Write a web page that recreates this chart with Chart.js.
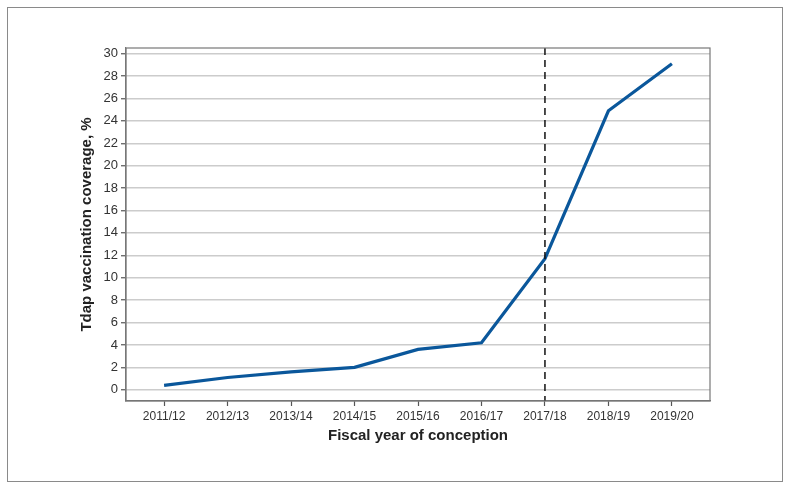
<!DOCTYPE html>
<html>
<head>
<meta charset="utf-8">
<script src="https://cdn.jsdelivr.net/npm/chart.js@4"></script>
<style>
  html, body { margin:0; padding:0; background:#fff; }
  #wrap { position:relative; width:791px; height:490px; }
  #frame { position:absolute; left:7px; top:7px; width:774px; height:473px; border:1.5px solid #8a8a8a; }
  canvas { position:absolute; left:0; top:0; }
</style>
</head>
<body>
<div id="wrap">
  <div id="frame"></div>
  <canvas id="chart" width="791" height="490"></canvas>
</div>
<script>
// fiscal years and Tdap coverage (%)
const years    = ['2011/12','2012/13','2013/14','2014/15','2015/16','2016/17','2017/18','2018/19','2019/20'];
const coverage = [0.4, 1.1, 1.6, 2.0, 3.6, 4.2, 11.7, 24.9, 29.1];
const yTicks   = [0,2,4,6,8,10,12,14,16,18,20,22,24,26,28,30];
const markerYear = '2017/18';

const FONT = "'Liberation Sans', Arial, sans-serif";

// dashed vertical reference line + box round the plot area
const extras = {
  id: 'extras',
  afterDatasetsDraw(chart) {
    const { ctx, chartArea: a, scales } = chart;
    const x = scales.x.getPixelForValue(years.indexOf(markerYear));
    ctx.save();
    ctx.strokeStyle = '#111';
    ctx.lineWidth = 1.5;
    ctx.setLineDash([7, 5]);
    ctx.beginPath(); ctx.moveTo(x, a.top); ctx.lineTo(x, a.bottom); ctx.stroke();
    ctx.setLineDash([]);
    ctx.strokeStyle = '#777';
    ctx.lineWidth = 1.2;
    ctx.strokeRect(a.left, a.top, a.right - a.left, a.bottom - a.top);
    ctx.restore();
  }
};

new Chart(document.getElementById('chart'), {
  type: 'line',
  data: {
    datasets: [{
      data: coverage.map((v, i) => ({ x: i, y: v })),
      borderColor: '#0a579b',
      borderWidth: 3.2,
      pointRadius: 0,
      tension: 0,
      fill: false
    }]
  },
  options: {
    responsive: false,
    animation: false,
    layout: { padding: { left: 74, top: 48, right: 81, bottom: 41 } },
    plugins: { legend: { display: false }, tooltip: { enabled: false } },
    scales: {
      x: {
        type: 'linear',
        min: -0.6, max: years.length - 0.4,
        afterBuildTicks: s => { s.ticks = years.map((_, i) => ({ value: i })); },
        afterFit: s => { s.height = 48; },
        ticks: { color: '#333', font: { family: FONT, size: 12 }, padding: 3, maxRotation: 0,
                 callback: v => years[v] },
        grid: { drawOnChartArea: false, drawTicks: true, tickLength: 5, tickColor: '#555', tickWidth: 1.2 },
        border: { color: '#777', width: 1.2 },
        title: { display: true, text: 'Fiscal year of conception', color: '#222',
                 font: { family: FONT, size: 15, weight: 'bold' } }
      },
      y: {
        min: -1, max: 30.5,
        afterBuildTicks: s => { s.ticks = yTicks.map(v => ({ value: v })); },
        afterFit: s => { s.width = 52; },
        ticks: { color: '#333', font: { family: FONT, size: 13 }, padding: 3 },
        grid: { color: '#cccccc', lineWidth: 1.5, tickLength: 5, tickColor: '#555', tickWidth: 1.2 },
        border: { color: '#777', width: 1.2 },
        title: { display: true, text: 'Tdap vaccination coverage, %', color: '#222',
                 font: { family: FONT, size: 15, weight: 'bold' } }
      }
    }
  },
  plugins: [extras]
});
</script>
</body>
</html>
